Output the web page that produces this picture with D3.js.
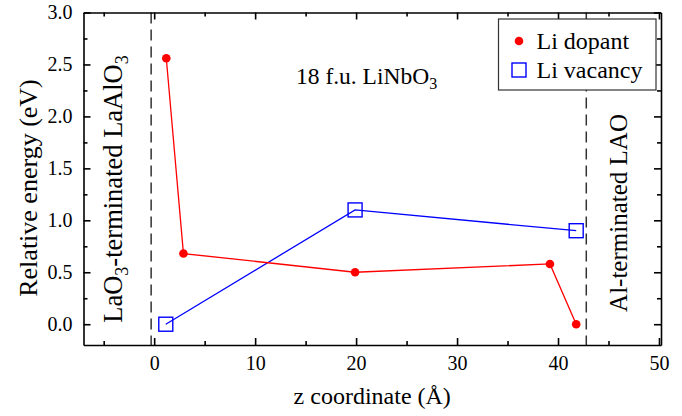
<!DOCTYPE html>
<html>
<head>
<meta charset="utf-8">
<script src="https://cdn.jsdelivr.net/npm/d3@7"></script>
<style>
  body { margin: 0; background: #fff; }
  svg text { font-family: 'Liberation Serif', 'Times New Roman', Times, 'DejaVu Serif', serif; fill: #000; }
</style>
</head>
<body>
<div id="chart"></div>
<script>
// Li dopant (red circles)
const dopantZ = [1.2, 2.9, 19.9, 39.2, 41.8];
const dopantE = [2.56, 0.68, 0.50, 0.58, 0.00];
// Li vacancy (blue squares)
const vacancyZ = [1.15, 19.9, 41.8];
const vacancyE = [0.00, 1.10, 0.90];
// interface positions (dashed lines)
const interfaces = [-0.3, 42.8];
const xMajor = [0, 10, 20, 30, 40, 50];
const xMinor = [-5, 5, 15, 25, 35, 45];
const yMajor = [0, 0.5, 1.0, 1.5, 2.0, 2.5, 3.0];
const yMinor = [0.25, 0.75, 1.25, 1.75, 2.25, 2.75];

const W = 682, H = 416;
const margin = { top: 12.5, right: 21, bottom: 71, left: 83.5 };
const FONT = "'Liberation Serif', 'Times New Roman', Times, 'DejaVu Serif', serif";

const svg = d3.select('#chart').append('svg')
    .attr('width', W).attr('height', H)
    .attr('font-family', FONT);

const x = d3.scaleLinear().domain([-7, 50.2]).range([margin.left, W - margin.right]);
const y = d3.scaleLinear().domain([-0.2, 3.0]).range([H - margin.bottom, margin.top]);

// dashed interface lines
svg.selectAll('.iface').data(interfaces).enter().append('line')
    .attr('x1', d => x(d)).attr('x2', d => x(d))
    .attr('y1', y.range()[1]).attr('y2', y.range()[0])
    .attr('stroke', '#333').attr('stroke-width', 1.5)
    .attr('stroke-dasharray', '11,6');

// axes, ticks pointing inward
function styleAxis(g) {
    g.attr('font-family', FONT).attr('font-size', 20);
    g.selectAll('.domain').attr('stroke', '#000').attr('stroke-width', 1.6);
    g.selectAll('.tick line').attr('stroke', '#000').attr('stroke-width', 1.6);
    g.selectAll('text').attr('fill', '#000');
}
const bottomY = y.range()[0], topY = y.range()[1];
const leftX = x.range()[0], rightX = x.range()[1];

svg.append('g').attr('transform', `translate(0,${bottomY})`)
    .call(d3.axisBottom(x).tickValues(xMajor).tickSize(-7).tickSizeOuter(0).tickPadding(11))
    .call(styleAxis);
svg.append('g').attr('transform', `translate(0,${bottomY})`)
    .call(d3.axisBottom(x).tickValues(xMinor).tickSize(-4).tickFormat(''))
    .call(styleAxis).call(g => g.select('.domain').remove());
svg.append('g').attr('transform', `translate(0,${topY})`)
    .call(d3.axisTop(x).tickValues(xMajor).tickSize(-7).tickSizeOuter(0).tickFormat(''))
    .call(styleAxis);
svg.append('g').attr('transform', `translate(0,${topY})`)
    .call(d3.axisTop(x).tickValues(xMinor).tickSize(-4).tickFormat(''))
    .call(styleAxis).call(g => g.select('.domain').remove());

svg.append('g').attr('transform', `translate(${leftX},0)`)
    .call(d3.axisLeft(y).tickValues(yMajor).tickSize(-7).tickSizeOuter(0).tickPadding(11).tickFormat(d3.format('.1f')))
    .call(styleAxis);
svg.append('g').attr('transform', `translate(${leftX},0)`)
    .call(d3.axisLeft(y).tickValues(yMinor).tickSize(-4).tickFormat(''))
    .call(styleAxis).call(g => g.select('.domain').remove());
svg.append('g').attr('transform', `translate(${rightX},0)`)
    .call(d3.axisRight(y).tickValues(yMajor).tickSize(-7).tickSizeOuter(0).tickFormat(''))
    .call(styleAxis);
svg.append('g').attr('transform', `translate(${rightX},0)`)
    .call(d3.axisRight(y).tickValues(yMinor).tickSize(-4).tickFormat(''))
    .call(styleAxis).call(g => g.select('.domain').remove());

// series
const dopant = dopantZ.map((z, i) => ({ z, e: dopantE[i] }));
const vacancy = vacancyZ.map((z, i) => ({ z, e: vacancyE[i] }));
const line = d3.line().x(d => x(d.z)).y(d => y(d.e));

svg.append('path').datum(vacancy).attr('d', line)
    .attr('fill', 'none').attr('stroke', '#0000ff').attr('stroke-width', 1.3);
svg.append('path').datum(dopant).attr('d', line)
    .attr('fill', 'none').attr('stroke', '#ff0000').attr('stroke-width', 1.3);

svg.selectAll('.dop').data(dopant).enter().append('circle')
    .attr('cx', d => x(d.z)).attr('cy', d => y(d.e)).attr('r', 4.3)
    .attr('fill', '#ff0000');
const sq = 14;
svg.selectAll('.vac').data(vacancy).enter().append('rect')
    .attr('x', d => x(d.z) - sq / 2).attr('y', d => y(d.e) - sq / 2)
    .attr('width', sq).attr('height', sq)
    .attr('fill', 'none').attr('stroke', '#0000ff').attr('stroke-width', 1.4);

// axis titles
svg.append('text').attr('x', (leftX + rightX) / 2).attr('y', 404)
    .attr('text-anchor', 'middle').attr('font-size', 24)
    .text('z coordinate (Å)');
svg.append('text').attr('transform', 'translate(37,188) rotate(-90)')
    .attr('text-anchor', 'middle').attr('font-size', 26)
    .text('Relative energy (eV)');

// annotations
const ann = svg.append('text').attr('x', 296).attr('y', 84).attr('font-size', 23.5);
ann.append('tspan').text('18 f.u. LiNbO');
ann.append('tspan').attr('dy', 5).attr('font-size', 16).text('3');

const leftLab = svg.append('text').attr('transform', 'translate(122,189) rotate(-90)')
    .attr('text-anchor', 'middle').attr('font-size', 26.5);
leftLab.append('tspan').text('LaO');
leftLab.append('tspan').attr('dy', 6).attr('font-size', 18).text('3');
leftLab.append('tspan').attr('dy', -6).text('-terminated LaAlO');
leftLab.append('tspan').attr('dy', 6).attr('font-size', 18).text('3');

svg.append('text').attr('transform', 'translate(627,213) rotate(-90)')
    .attr('text-anchor', 'middle').attr('font-size', 25)
    .text('Al-terminated LAO');

// legend
const leg = svg.append('g');
leg.append('rect').attr('x', 498.5).attr('y', 19).attr('width', 157.5).attr('height', 71)
    .attr('fill', '#fff').attr('stroke', '#333').attr('stroke-width', 1.2);
leg.append('circle').attr('cx', 519).attr('cy', 41).attr('r', 4.3).attr('fill', '#ff0000');
leg.append('rect').attr('x', 519 - 7).attr('y', 70 - 7).attr('width', 14).attr('height', 14)
    .attr('fill', 'none').attr('stroke', '#0000ff').attr('stroke-width', 1.4);
leg.append('text').attr('x', 536.5).attr('y', 48.5).attr('font-size', 24).text('Li dopant');
leg.append('text').attr('x', 536.5).attr('y', 77.5).attr('font-size', 24).text('Li vacancy');
</script>
</body>
</html>
